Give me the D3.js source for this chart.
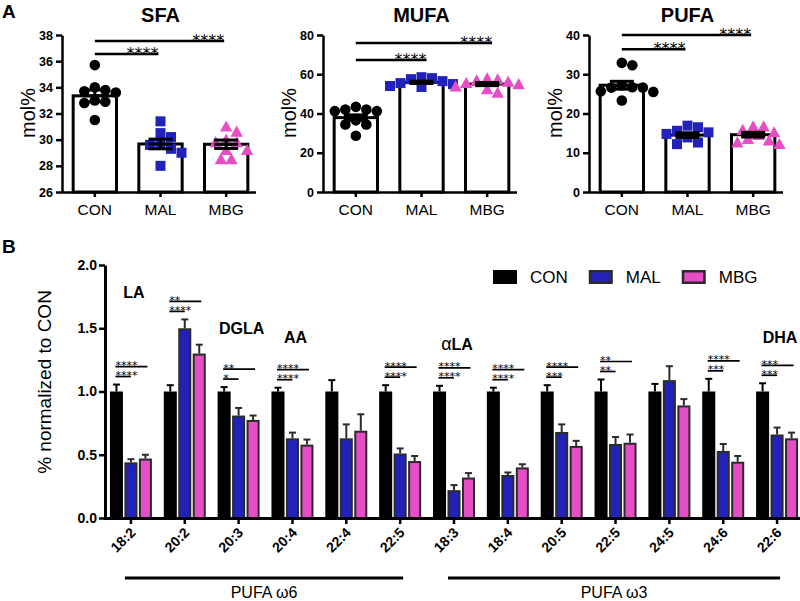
<!DOCTYPE html>
<html><head><meta charset="utf-8">
<script src="https://cdn.jsdelivr.net/npm/d3@7"></script>
<style>
body{margin:0;background:#fff}
svg{display:block}
text{font-family:"Liberation Sans",Arial,Helvetica,sans-serif;fill:#000}
text.star{font-family:"DejaVu Sans",sans-serif}
</style>
</head><body>
<svg id="c" width="800" height="601"></svg>
<script>
// ---------- Panel A data ----------
const groups = ["CON", "MAL", "MBG"];
const panelTitles = ["SFA", "MUFA", "PUFA"];
const yLabelA = "mol%";

const sfaCON = [35.7, 34.0, 33.8, 33.7, 33.6, 33.0, 32.9, 32.8, 31.5];
const sfaMAL = [31.4, 30.5, 30.2, 29.7, 29.6, 29.3, 29.0, 28.0];
const sfaMBG = [31.0, 30.6, 30.0, 29.8, 29.8, 29.2, 29.2, 28.5, 28.5];
const sfaMean = [33.35, 29.67, 29.65];
const sfaSem = [0.45, 0.37, 0.32];
const sfaTicks = [26, 28, 30, 32, 34, 36, 38];
const sfaSigLevels = [37.55, 36.55];

const mufaCON = [43.4, 42.0, 42.0, 41.2, 41.2, 36.5, 34.4, 34.4, 28.7];
const mufaMAL = [58.5, 58.0, 57.5, 56.5, 55.5, 55.0, 54.0, 53.5];
const mufaMBG = [57.8, 57.3, 56.8, 56.1, 55.5, 54.9, 53.8, 52.3, 50.6];
const mufaMean = [37.9, 55.9, 55.0];
const mufaSem = [1.4, 0.6, 0.8];
const mufaTicks = [0, 20, 40, 60, 80];
const mufaSigLevels = [75.9, 67.2];

const pufaCON = [32.9, 32.3, 27.2, 26.7, 26.6, 26.6, 25.7, 25.5, 23.3];
const pufaMAL = [16.9, 16.5, 15.6, 15.2, 14.8, 13.9, 12.6, 12.2];
const pufaMBG = [16.7, 16.7, 15.8, 15.2, 14.5, 13.5, 13.1, 12.6, 12.2];
const pufaMean = [27.2, 14.5, 14.6];
const pufaSem = [1.0, 0.6, 0.6];
const pufaTicks = [0, 10, 20, 30, 40];
const pufaSigLevels = [40.0, 36.4];

const sigStarsA = ["****", "****"]; // [CON vs MBG (upper), CON vs MAL (lower)]

// ---------- Panel B data ----------
const fattyAcids = ["18:2", "20:2", "20:3", "20:4", "22:4", "22:5", "18:3", "18:4", "20:5", "22:5", "24:5", "24:6", "22:6"];
const series = ["CON", "MAL", "MBG"];
const conMean = [1, 1, 1, 1, 1, 1, 1, 1, 1, 1, 1, 1, 1];
const conErr = [0.055, 0.05, 0.035, 0.03, 0.09, 0.05, 0.045, 0.03, 0.05, 0.095, 0.06, 0.10, 0.065];
const malMean = [0.44, 1.50, 0.81, 0.63, 0.63, 0.51, 0.22, 0.34, 0.68, 0.585, 1.09, 0.53, 0.66];
const malErr = [0.025, 0.07, 0.06, 0.045, 0.11, 0.04, 0.04, 0.02, 0.06, 0.055, 0.11, 0.055, 0.055];
const mbgMean = [0.47, 1.30, 0.775, 0.58, 0.69, 0.45, 0.32, 0.40, 0.57, 0.595, 0.89, 0.445, 0.63];
const mbgErr = [0.03, 0.07, 0.035, 0.04, 0.13, 0.04, 0.035, 0.025, 0.04, 0.065, 0.05, 0.045, 0.045];
const sigUpper = ["****", "**", "**", "****", "", "****", "****", "****", "****", "**", "", "****", "***"];
const sigLower = ["****", "****", "*", "****", "", "****", "****", "****", "***", "**", "", "***", "***"];
const yTicksB = [0, 0.5, 1.0, 1.5, 2.0];
const yLabelB = "% normalized to CON";
const faNames = ["LA", "DGLA", "AA", "αLA", "DHA"];
const faNameIndex = [0, 2, 3, 6, 12];
const faNameLevel = [1.74, 1.455, 1.383, 1.328, 1.383];
const familyNames = ["PUFA ω6", "PUFA ω3"];
const familyFirst = [0, 6];
const familyLast = [5, 12];

// ---------- styling ----------
const BLUE = "#2222bb", PINK = "#e64ec6", EDGE = "#2b2b2b";
const colors = {CON: "#000", MAL: BLUE, MBG: PINK};

const svg = d3.select("#c");

// panel letters
svg.append("text").attr("x", 2).attr("y", 18).attr("font-size", 19).attr("font-weight", "bold").text("A");
svg.append("text").attr("x", 2).attr("y", 253).attr("font-size", 19).attr("font-weight", "bold").text("B");

// ---------- Panel A ----------
const panelsA = [
  {title: panelTitles[0], pts: [sfaCON, sfaMAL, sfaMBG], mean: sfaMean, sem: sfaSem, ticks: sfaTicks, sig: sfaSigLevels},
  {title: panelTitles[1], pts: [mufaCON, mufaMAL, mufaMBG], mean: mufaMean, sem: mufaSem, ticks: mufaTicks, sig: mufaSigLevels},
  {title: panelTitles[2], pts: [pufaCON, pufaMAL, pufaMBG], mean: pufaMean, sem: pufaSem, ticks: pufaTicks, sig: pufaSigLevels}
];
const panelX0 = [62, 323, 589];
const A_TOP = 35, A_BOT = 192, A_W = 197;

function dodge(values, yScale, cx, diam) {
  const placed = [];
  const out = new Array(values.length);
  const order = values.map((v, i) => i).sort((a, b) => values[b] - values[a]);
  for (const i of order) {
    const y = yScale(values[i]);
    for (let k = 0; k < 60; k++) {
      const off = (k % 2 === 1 ? 1 : -1) * Math.ceil(k / 2) * diam * 0.5;
      const x = cx + off;
      if (placed.every(p => Math.hypot(p[0] - x, p[1] - y) >= diam * 0.9)) {
        placed.push([x, y]); out[i] = [x, y]; break;
      }
    }
  }
  return out;
}

panelsA.forEach((p, pi) => {
  const x0 = panelX0[pi];
  const g = svg.append("g");
  const x = d3.scaleBand().domain(groups).range([x0, x0 + A_W]).paddingInner(0.34).paddingOuter(0.17);
  const y = d3.scaleLinear().domain([p.ticks[0], p.ticks[p.ticks.length - 1]]).range([A_BOT, A_TOP]);
  const bw = x.bandwidth();
  const cx = gname => x(gname) + bw / 2;

  // bars
  g.selectAll("rect.bar").data(groups).join("rect")
    .attr("x", d => x(d)).attr("width", bw)
    .attr("y", (d, i) => y(p.mean[i])).attr("height", (d, i) => A_BOT - y(p.mean[i]))
    .attr("fill", "#fff").attr("stroke", "#000").attr("stroke-width", 3);

  // points
  groups.forEach((gname, gi) => {
    const pos = dodge(p.pts[gi], y, cx(gname), 10.5);
    const col = colors[gname];
    pos.forEach(([px, py]) => {
      if (gi === 0) {
        g.append("circle").attr("cx", px).attr("cy", py).attr("r", 5.3).attr("fill", col);
      } else if (gi === 1) {
        g.append("rect").attr("x", px - 5).attr("y", py - 5).attr("width", 10).attr("height", 10).attr("fill", col);
      } else {
        const s = 6.2;
        g.append("path").attr("d", `M${px},${py - s}L${px + s},${py + s * 0.8}L${px - s},${py + s * 0.8}Z`).attr("fill", col);
      }
    });
  });

  // mean + SEM
  groups.forEach((gname, gi) => {
    const c = cx(gname), hw = 12;
    const m = p.mean[gi], s = p.sem[gi];
    const eg = g.append("g").attr("stroke", "#000").attr("stroke-width", 3);
    eg.append("line").attr("x1", c).attr("x2", c).attr("y1", y(m - s)).attr("y2", y(m + s));
    [m - s, m, m + s].forEach(v => eg.append("line").attr("x1", c - hw).attr("x2", c + hw).attr("y1", y(v)).attr("y2", y(v)));
  });

  // axes
  const ya = g.append("g").attr("transform", `translate(${x0},0)`)
    .call(d3.axisLeft(y).tickValues(p.ticks).tickSize(6).tickSizeOuter(0).tickPadding(3));
  const xa = g.append("g").attr("transform", `translate(0,${A_BOT})`)
    .call(d3.axisBottom(x).tickSize(5).tickSizeOuter(0).tickPadding(7));
  [ya, xa].forEach(a => {
    a.select(".domain").attr("stroke", "#000").attr("stroke-width", 2.5);
    a.selectAll(".tick line").attr("stroke", "#000").attr("stroke-width", 2.5);
  });
  xa.select(".domain").attr("d", `M${x0},0.5H${x0 + A_W - 3}`);
  ya.selectAll(".tick text").attr("font-size", 12.5).attr("font-weight", "bold").attr("font-family", null);
  xa.selectAll(".tick text").attr("font-size", 15.5).attr("font-family", null);

  // title
  g.append("text").attr("x", cx("MAL")).attr("y", 22).attr("text-anchor", "middle")
    .attr("font-size", 20).attr("font-weight", "bold").text(p.title);
  // y label
  g.append("text").attr("transform", `translate(${x0 - 34},113) rotate(-90)`)
    .attr("text-anchor", "middle").attr("dy", "0.35em").attr("font-size", 20).text(yLabelA);

  // significance
  const targets = ["MBG", "MAL"];
  targets.forEach((t, ti) => {
    const ly = y(p.sig[ti]);
    const xs = cx("CON"), xe = cx(t) + (pi === 1 ? 5 : -2);
    g.append("line").attr("x1", xs).attr("x2", xe).attr("y1", ly).attr("y2", ly)
      .attr("stroke", "#000").attr("stroke-width", 2.5);
    g.append("text").attr("class", "star").attr("x", xe).attr("y", ly + 5).attr("text-anchor", "end")
      .attr("font-size", 16).text(sigStarsA[ti]);
  });
});

// ---------- Panel B ----------
const B_TOP = 265, B_BOT = 518, B_X0 = 105, B_X1 = 804;
const xB = d3.scaleBand().domain(d3.range(fattyAcids.length)).range([104, B_X1]);
const xs = d3.scaleBand().domain(series).range([-21, 21]).paddingInner(0.1);
const yB = d3.scaleLinear().domain([0, 2]).range([B_BOT, B_TOP]);
const gB = svg.append("g");
const means = {CON: conMean, MAL: malMean, MBG: mbgMean};
const errs = {CON: conErr, MAL: malErr, MBG: mbgErr};
const ctr = i => xB(i) + xB.bandwidth() / 2;
const sbw = xs.bandwidth();

// bars
series.forEach(s => {
  fattyAcids.forEach((fa, i) => {
    const bx = ctr(i) + xs(s);
    const top = yB(means[s][i]);
    const et = yB(means[s][i] + errs[s][i]);
    const ec = s === "CON" ? "#000" : EDGE;
    const c = bx + sbw / 2;
    gB.append("line").attr("x1", c).attr("x2", c).attr("y1", top).attr("y2", et).attr("stroke", ec).attr("stroke-width", 2);
    gB.append("line").attr("x1", c - 3.5).attr("x2", c + 3.5).attr("y1", et).attr("y2", et).attr("stroke", ec).attr("stroke-width", 2);
    if (s === "CON") {
      gB.append("rect").attr("x", bx).attr("y", top).attr("width", sbw).attr("height", B_BOT - top).attr("fill", "#000");
    } else {
      gB.append("rect").attr("x", bx + 1).attr("y", top + 1).attr("width", sbw - 2).attr("height", B_BOT - top - 1)
        .attr("fill", colors[s]).attr("stroke", EDGE).attr("stroke-width", 2);
    }
  });
});

// significance
fattyAcids.forEach((fa, i) => {
  if (!sigUpper[i]) return;
  const maxTop = Math.max(conMean[i] + conErr[i], malMean[i] + malErr[i], mbgMean[i] + mbgErr[i]);
  const uy = yB(maxTop) - 18, ly = uy + 10;
  const xc = ctr(i) + xs("CON") + sbw / 2;
  const xm = ctr(i) + xs("MAL") + sbw / 2;
  const xg = ctr(i) + xs("MBG") + sbw / 2 + 2;
  [[uy, xg, sigUpper[i]], [ly, xm, sigLower[i]]].forEach(([yy, xe, st]) => {
    gB.append("line").attr("x1", xc - 1).attr("x2", xe).attr("y1", yy).attr("y2", yy).attr("stroke", "#000").attr("stroke-width", 1.7);
    gB.append("text").attr("class", "star").attr("x", xc - 1).attr("y", yy + 2.5).attr("font-size", 11).text(st);
  });
});

// fatty acid names
faNames.forEach((n, k) => {
  const t = gB.append("text").attr("x", ctr(faNameIndex[k]) + 3).attr("y", yB(faNameLevel[k]))
    .attr("text-anchor", "middle").attr("font-size", 16).attr("font-weight", "bold");
  if (n.startsWith("α")) {
    t.append("tspan").attr("font-weight", "normal").attr("font-size", 18).text("α");
    t.append("tspan").text(n.slice(1));
  } else t.text(n);
});

// axes
const yaB = gB.append("g").attr("transform", `translate(${B_X0},0)`)
  .call(d3.axisLeft(yB).tickValues(yTicksB).tickFormat(d3.format(".1f")).tickSize(6).tickSizeOuter(0).tickPadding(2));
const xaB = gB.append("g").attr("transform", `translate(0,${B_BOT})`)
  .call(d3.axisBottom(xB).tickFormat(i => fattyAcids[i]).tickSize(6).tickSizeOuter(0));
[yaB, xaB].forEach(a => {
  a.select(".domain").attr("stroke", "#000").attr("stroke-width", 3);
  a.selectAll(".tick line").attr("stroke", "#000").attr("stroke-width", 2.5);
});
xaB.select(".domain").attr("d", `M${B_X0 - 1.5},0.5H${B_X1}`);
yaB.selectAll(".tick text").attr("font-size", 14).attr("font-weight", "bold").attr("font-family", null);
xaB.selectAll(".tick text").attr("font-size", 14).attr("font-weight", "bold").attr("font-family", null)
  .attr("text-anchor", "end").attr("dy", "0.35em").attr("y", 0)
  .attr("transform", "translate(2,12) rotate(-45)");

// y label
gB.append("text").attr("transform", `translate(44,382) rotate(-90)`).attr("text-anchor", "middle")
  .attr("dy", "0.35em").attr("font-size", 19).text(yLabelB);

// family brackets
familyNames.forEach((n, k) => {
  const xa = ctr(familyFirst[k]) - 6, xb = ctr(familyLast[k]) + 3;
  gB.append("line").attr("x1", xa).attr("x2", xb).attr("y1", 578).attr("y2", 578).attr("stroke", "#000").attr("stroke-width", 3.2);
  gB.append("text").attr("x", (xa + xb) / 2).attr("y", 598).attr("text-anchor", "middle").attr("font-size", 16).text(n);
});

// legend
let lx = 493;
series.forEach(s => {
  if (s === "CON") {
    gB.append("rect").attr("x", lx).attr("y", 270).attr("width", 24).attr("height", 14).attr("fill", "#000");
  } else {
    gB.append("rect").attr("x", lx + 1.25).attr("y", 271.25).attr("width", 21.5).attr("height", 11.5)
      .attr("fill", colors[s]).attr("stroke", EDGE).attr("stroke-width", 2.5);
  }
  const t = gB.append("text").attr("x", lx + 37).attr("y", 283).attr("font-size", 17).text(s);
  lx = lx + 37 + t.node().getComputedTextLength() + 21;
});
</script>
</body></html>
